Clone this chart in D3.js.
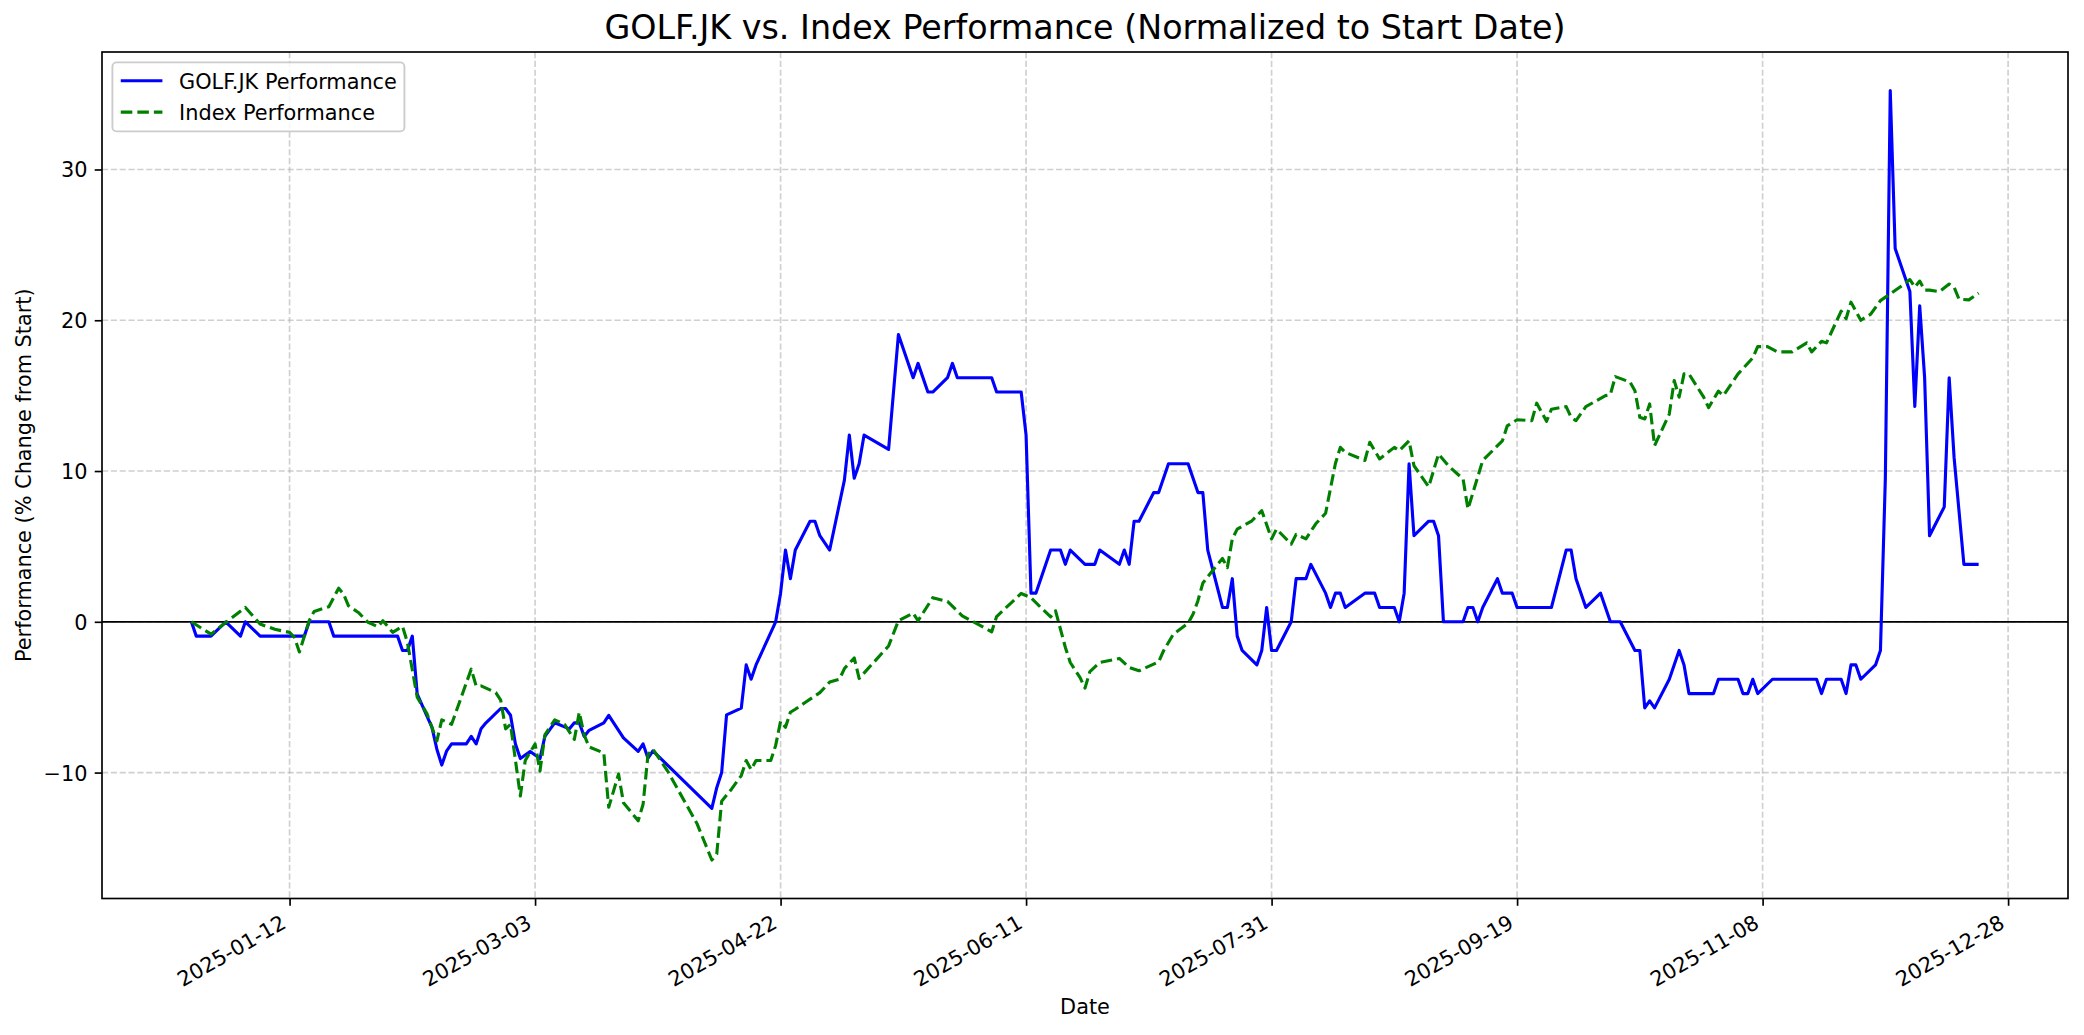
<!DOCTYPE html>
<html><head><meta charset="utf-8">
<script src="https://cdn.jsdelivr.net/npm/d3@7"></script>
<style>body{margin:0;background:#fff} svg{display:block} text{font-family:"DejaVu Sans",sans-serif;fill:#000}</style>
</head><body><svg id="c" width="2084" height="1035"></svg>
<script>
const golfDates = [
"2024-12-23","2024-12-24","2024-12-27","2024-12-30","2025-01-02","2025-01-03","2025-01-06","2025-01-15","2025-01-16","2025-01-20",
"2025-01-21","2025-02-03","2025-02-04","2025-02-05","2025-02-06","2025-02-07","2025-02-10","2025-02-11","2025-02-12","2025-02-13",
"2025-02-14","2025-02-17","2025-02-18","2025-02-19","2025-02-20","2025-02-21","2025-02-24","2025-02-25","2025-02-26","2025-02-27",
"2025-02-28","2025-03-02","2025-03-04","2025-03-05","2025-03-07","2025-03-10","2025-03-11","2025-03-12","2025-03-13","2025-03-14",
"2025-03-17","2025-03-18","2025-03-20","2025-03-21","2025-03-24","2025-03-25","2025-03-26","2025-03-27","2025-04-08","2025-04-09",
"2025-04-10","2025-04-11","2025-04-14","2025-04-15","2025-04-16","2025-04-17","2025-04-21","2025-04-22","2025-04-23","2025-04-24",
"2025-04-25","2025-04-28","2025-04-29","2025-04-30","2025-05-02","2025-05-05","2025-05-06","2025-05-07","2025-05-08","2025-05-09",
"2025-05-14","2025-05-16","2025-05-19","2025-05-20","2025-05-22","2025-05-23","2025-05-26","2025-05-27","2025-05-28","2025-06-04",
"2025-06-05","2025-06-10","2025-06-11","2025-06-12","2025-06-13","2025-06-16","2025-06-18","2025-06-19","2025-06-20","2025-06-23",
"2025-06-25","2025-06-26","2025-06-30","2025-07-01","2025-07-02","2025-07-03","2025-07-04","2025-07-07","2025-07-08","2025-07-10",
"2025-07-14","2025-07-16","2025-07-17","2025-07-18","2025-07-21","2025-07-22","2025-07-23","2025-07-24","2025-07-25","2025-07-28",
"2025-07-29","2025-07-30","2025-07-31","2025-08-01","2025-08-04","2025-08-05","2025-08-07","2025-08-08","2025-08-11","2025-08-12",
"2025-08-13","2025-08-14","2025-08-15","2025-08-19","2025-08-21","2025-08-22","2025-08-25","2025-08-26","2025-08-27","2025-08-28",
"2025-08-29","2025-09-01","2025-09-02","2025-09-03","2025-09-04","2025-09-08","2025-09-09","2025-09-10","2025-09-11","2025-09-12",
"2025-09-15","2025-09-16","2025-09-18","2025-09-19","2025-09-26","2025-09-29","2025-09-30","2025-10-01","2025-10-03","2025-10-06",
"2025-10-08","2025-10-10","2025-10-13","2025-10-14","2025-10-15","2025-10-16","2025-10-17","2025-10-20","2025-10-22","2025-10-23",
"2025-10-24","2025-10-29","2025-10-30","2025-11-03","2025-11-04","2025-11-05","2025-11-06","2025-11-07","2025-11-10","2025-11-19",
"2025-11-20","2025-11-21","2025-11-24","2025-11-25","2025-11-26","2025-11-27","2025-11-28","2025-12-01","2025-12-02","2025-12-03",
"2025-12-04","2025-12-05","2025-12-08","2025-12-09","2025-12-10","2025-12-11","2025-12-12","2025-12-15","2025-12-16","2025-12-17",
"2025-12-19","2025-12-22"];
const golfValues = [
0,-0.95,-0.95,0,-0.95,0,-0.95,-0.95,0,0,
-0.95,-0.95,-1.9,-1.9,-0.95,-4.8,-7.0,-8.45,-9.5,-8.56,
-8.1,-8.1,-7.6,-8.1,-7.1,-6.7,-5.75,-5.75,-6.2,-8.1,
-9.07,-8.6,-9.07,-7.6,-6.7,-7.1,-6.7,-6.7,-7.6,-7.2,
-6.7,-6.2,-7.2,-7.7,-8.6,-8.1,-9.05,-8.56,-12.38,-11.0,
-10.0,-6.17,-5.73,-2.86,-3.81,-2.86,0,1.9,4.76,2.86,
4.76,6.67,6.67,5.71,4.76,9.4,12.38,9.52,10.48,12.38,
11.43,19.05,16.19,17.14,15.24,15.24,16.19,17.14,16.19,16.19,
15.24,15.24,12.38,1.9,1.9,4.76,4.76,3.81,4.76,3.81,
3.81,4.76,3.81,4.76,3.81,6.67,6.67,8.57,8.57,10.48,
10.48,8.57,8.57,4.76,0.95,0.95,2.86,-0.95,-1.9,-2.86,
-1.9,0.95,-1.9,-1.9,0,2.86,2.86,3.81,1.9,0.95,
1.9,1.9,0.95,1.9,1.9,0.95,0.95,0,1.9,10.48,
5.71,6.67,6.67,5.71,0,0,0.95,0.95,0,0.95,
2.86,1.9,1.9,0.95,0.95,4.76,4.76,2.86,0.95,1.9,
0,0,-1.9,-1.9,-5.71,-5.24,-5.71,-3.81,-1.9,-2.86,
-4.76,-4.76,-3.81,-3.81,-4.76,-4.76,-3.81,-4.76,-3.81,-3.81,
-4.76,-3.81,-3.81,-4.76,-2.86,-2.86,-3.81,-2.86,-1.9,9.52,
35.24,24.76,21.9,14.29,20.95,16.19,5.71,7.62,16.19,10.9,
3.81,3.81];

const indexDates = [
"2024-12-23","2024-12-27","2024-12-30","2025-01-03","2025-01-06","2025-01-09","2025-01-12","2025-01-13","2025-01-14","2025-01-16",
"2025-01-17","2025-01-20","2025-01-22","2025-01-23","2025-01-24","2025-01-26","2025-01-28","2025-01-30","2025-01-31","2025-02-02",
"2025-02-04","2025-02-05","2025-02-07","2025-02-09","2025-02-11","2025-02-12","2025-02-14","2025-02-18","2025-02-19","2025-02-20",
"2025-02-23","2025-02-24","2025-02-25","2025-02-26","2025-02-28","2025-03-01","2025-03-03","2025-03-04","2025-03-05","2025-03-07",
"2025-03-09","2025-03-11","2025-03-12","2025-03-13","2025-03-14","2025-03-17","2025-03-18","2025-03-20","2025-03-21","2025-03-24",
"2025-03-25","2025-03-26","2025-03-27","2025-03-30","2025-04-05","2025-04-08","2025-04-09","2025-04-10","2025-04-12","2025-04-14",
"2025-04-15","2025-04-16","2025-04-17","2025-04-20","2025-04-21","2025-04-22","2025-04-23","2025-04-24","2025-04-25","2025-04-27",
"2025-04-30","2025-05-02","2025-05-04","2025-05-05","2025-05-07","2025-05-08","2025-05-14","2025-05-16","2025-05-19","2025-05-20",
"2025-05-23","2025-05-26","2025-05-29","2025-06-04","2025-06-05","2025-06-10","2025-06-12","2025-06-14","2025-06-16","2025-06-17",
"2025-06-19","2025-06-20","2025-06-22","2025-06-23","2025-06-24","2025-06-26","2025-06-30","2025-07-02","2025-07-04","2025-07-08",
"2025-07-09","2025-07-11","2025-07-14","2025-07-15","2025-07-16","2025-07-17","2025-07-19","2025-07-21","2025-07-22","2025-07-23",
"2025-07-24","2025-07-27","2025-07-29","2025-07-31","2025-08-01","2025-08-04","2025-08-05","2025-08-07","2025-08-09","2025-08-11",
"2025-08-13","2025-08-14","2025-08-15","2025-08-19","2025-08-20","2025-08-22","2025-08-25","2025-08-26","2025-08-28","2025-08-29",
"2025-09-01","2025-09-03","2025-09-05","2025-09-08","2025-09-09","2025-09-12","2025-09-16","2025-09-17","2025-09-19","2025-09-22",
"2025-09-23","2025-09-25","2025-09-26","2025-09-29","2025-09-30","2025-10-01","2025-10-03","2025-10-07","2025-10-08","2025-10-09",
"2025-10-12","2025-10-13","2025-10-14","2025-10-15","2025-10-16","2025-10-17","2025-10-20","2025-10-21","2025-10-22","2025-10-23",
"2025-10-24","2025-10-27","2025-10-28","2025-10-30","2025-10-31","2025-11-03","2025-11-06","2025-11-07","2025-11-09","2025-11-11",
"2025-11-14","2025-11-17","2025-11-18","2025-11-20","2025-11-21","2025-11-24","2025-11-25","2025-11-26","2025-11-28","2025-11-30",
"2025-12-02","2025-12-04","2025-12-06","2025-12-08","2025-12-09","2025-12-10","2025-12-11","2025-12-12","2025-12-14","2025-12-16",
"2025-12-17","2025-12-18","2025-12-20","2025-12-22"];
const indexValues = [
0,-0.82,-0.05,0.95,-0.15,-0.5,-0.7,-1.04,-2.0,0.07,
0.69,1.0,2.23,1.84,1.06,0.62,-0.04,-0.33,0.07,-0.7,
-0.3,-1.37,-5.0,-6.1,-7.9,-6.5,-6.8,-3.14,-4.25,-4.25,
-4.7,-5.2,-7.1,-6.8,-11.55,-9.2,-8.1,-9.9,-7.5,-6.5,
-6.8,-7.8,-6.0,-7.5,-8.3,-8.7,-12.3,-10.1,-12.0,-13.2,
-12.1,-8.8,-8.45,-9.9,-13.4,-15.8,-15.4,-11.9,-11.1,-10.2,
-9.2,-9.8,-9.2,-9.2,-8.2,-6.6,-7.0,-6.0,-5.8,-5.35,
-4.7,-4.0,-3.8,-3.1,-2.4,-3.76,-1.6,0.07,0.58,0.07,
1.6,1.35,0.4,-0.66,0.35,1.88,1.6,0.95,0.33,0.73,
-1.7,-2.7,-3.7,-4.4,-3.3,-2.7,-2.43,-3.03,-3.25,-2.65,
-1.92,-0.82,-0.1,0.5,1.4,2.57,3.4,4.2,3.6,5.5,
6.15,6.7,7.37,5.5,6.15,5.15,5.8,5.5,6.5,7.2,
10.5,11.57,11.24,10.7,11.9,10.8,11.57,11.35,12.0,10.35,
8.96,11.13,10.35,9.47,7.48,10.7,12.0,13.0,13.4,13.34,
14.5,13.3,14.1,14.27,13.56,13.34,14.27,15.0,15.07,16.26,
15.9,15.33,13.56,13.45,14.45,11.68,13.78,16.0,14.9,16.44,
16.44,14.9,14.2,15.3,15.0,16.44,17.5,18.25,18.25,17.9,
17.9,18.5,17.9,18.6,18.5,20.6,20.1,21.2,20.0,20.4,
21.3,21.75,22.2,22.7,22.2,22.6,22.0,22.0,21.9,22.4,
22.2,21.4,21.35,21.8];

const xTickLabels = ["2025-01-12","2025-03-03","2025-04-22","2025-06-11","2025-07-31","2025-09-19","2025-11-08","2025-12-28"];
const yTickValues = [-10, 0, 10, 20, 30];
const seriesNames = ["GOLF.JK Performance", "Index Performance"];
const titleText = "GOLF.JK vs. Index Performance (Normalized to Start Date)";
const xLabelText = "Date";
const yLabelText = "Performance (% Change from Start)";

// ---- layout (matplotlib-like, 150 dpi) ----
const PT = 150/72;
const L = 102, R = 2068, T = 52, B = 898.5;
const FS = 10*PT;
const svg = d3.select("#c");
const parse = d3.utcParse("%Y-%m-%d");
const gD = golfDates.map(parse), iD = indexDates.map(parse);
const ext = d3.extent(gD.concat(iD));
const xPad = (ext[1]-ext[0])*0.05;
const x = d3.scaleUtc().domain([new Date(+ext[0]-xPad), new Date(+ext[1]+xPad)]).range([L, R]);
const vext = d3.extent(golfValues.concat(indexValues));
const yPad = (vext[1]-vext[0])*0.05;
const y = d3.scaleLinear().domain([vext[0]-yPad, vext[1]+yPad]).range([B, T]);
const xTicks = xTickLabels.map(parse);

svg.append("rect").attr("width",2084).attr("height",1035).attr("fill","#fff");

// grid
const grid = svg.append("g").attr("stroke","#b0b0b0").attr("stroke-opacity",0.6)
  .attr("stroke-width",0.8*PT).attr("stroke-dasharray",`${3.7*0.8*PT},${1.6*0.8*PT}`);
grid.selectAll("line.v").data(xTicks).enter().append("line")
  .attr("x1",d=>x(d)).attr("x2",d=>x(d)).attr("y1",T).attr("y2",B);
grid.selectAll("line.h").data(yTickValues).enter().append("line")
  .attr("x1",L).attr("x2",R).attr("y1",d=>y(d)).attr("y2",d=>y(d));

// zero line
svg.append("line").attr("x1",L).attr("x2",R).attr("y1",y(0)).attr("y2",y(0))
  .attr("stroke","#000").attr("stroke-width",0.8*PT);

svg.append("clipPath").attr("id","clip").append("rect").attr("x",L).attr("y",T).attr("width",R-L).attr("height",B-T);
const lineG = svg.append("g").attr("clip-path","url(#clip)");
const line = d3.line().x(d=>x(d[0])).y(d=>y(d[1]));
lineG.append("path").datum(gD.map((d,i)=>[d,golfValues[i]])).attr("d",line)
  .attr("fill","none").attr("stroke","#0000ff").attr("stroke-width",1.5*PT).attr("stroke-linejoin","round");
lineG.append("path").datum(iD.map((d,i)=>[d,indexValues[i]])).attr("d",line)
  .attr("fill","none").attr("stroke","#008000").attr("stroke-width",1.5*PT).attr("stroke-linejoin","round")
  .attr("stroke-dasharray",`${3.7*1.5*PT},${1.6*1.5*PT}`);

// axes
const tickLen = 3.5*PT, tickPad = 3.5*PT;
const xAxis = d3.axisBottom(x).tickValues(xTicks).tickFormat(d3.utcFormat("%Y-%m-%d")).tickSize(tickLen).tickSizeOuter(0).tickPadding(tickPad);
const gx = svg.append("g").attr("transform",`translate(0,${B})`).call(xAxis);
gx.select(".domain").remove();
gx.selectAll(".tick line").attr("stroke","#000").attr("stroke-width",0.8*PT);
const asc = 0.76*FS, desc = 0.24*FS;
gx.selectAll(".tick text")
  .attr("font-size",FS).attr("font-family","DejaVu Sans").attr("fill","#000")
  .attr("text-anchor","end").attr("dy",null).attr("y",null)
  .attr("transform",`translate(${-0.5*desc},${tickLen+tickPad+0.866*asc}) rotate(-30)`);

const yAxis = d3.axisLeft(y).tickValues(yTickValues).tickFormat(d3.format("d")).tickSize(tickLen).tickSizeOuter(0).tickPadding(tickPad);
const gy = svg.append("g").attr("transform",`translate(${L},0)`).call(yAxis);
gy.select(".domain").remove();
gy.selectAll(".tick line").attr("stroke","#000").attr("stroke-width",0.8*PT);
gy.selectAll(".tick text").attr("font-size",FS).attr("font-family","DejaVu Sans").attr("fill","#000").attr("dy","0.36em");

// spines
svg.append("rect").attr("x",L).attr("y",T).attr("width",R-L).attr("height",B-T)
  .attr("fill","none").attr("stroke","#000").attr("stroke-width",0.8*PT);

// title and labels
svg.append("text").attr("x",(L+R)/2).attr("y",T-6*PT-1).attr("text-anchor","middle")
  .attr("font-size",16*PT).text(titleText);
svg.append("text").attr("x",(L+R)/2).attr("y",1014).attr("text-anchor","middle")
  .attr("font-size",FS).text(xLabelText);
svg.append("text").attr("transform",`translate(30.5,${(T+B)/2}) rotate(-90)`).attr("text-anchor","middle")
  .attr("font-size",FS).text(yLabelText);

// legend
const lx = L + 0.5*FS, ly = T + 0.5*FS;
const lg = svg.append("g");
lg.append("rect").attr("x",lx).attr("y",ly).attr("width",292).attr("height",69).attr("rx",0.2*FS)
  .attr("fill","#fff").attr("fill-opacity",0.8).attr("stroke","#cccccc").attr("stroke-width",0.9*PT);
const rows = [
  {name: seriesNames[0], color:"#0000ff", dash:null},
  {name: seriesNames[1], color:"#008000", dash:`${3.7*1.5*PT},${1.6*1.5*PT}`}
];
rows.forEach((r,i)=>{
  const cy = ly + 0.4*FS + 10.5 + i*(21+0.5*FS);
  const hx = lx + 0.4*FS;
  const ln = lg.append("line").attr("x1",hx).attr("x2",hx+2*FS).attr("y1",cy-0.5).attr("y2",cy-0.5)
    .attr("stroke",r.color).attr("stroke-width",1.5*PT);
  if (r.dash) ln.attr("stroke-dasharray",r.dash);
  lg.append("text").attr("x",hx+2.8*FS).attr("y",cy+0.36*FS).attr("font-size",FS).text(r.name);
});
</script>
</body></html>
